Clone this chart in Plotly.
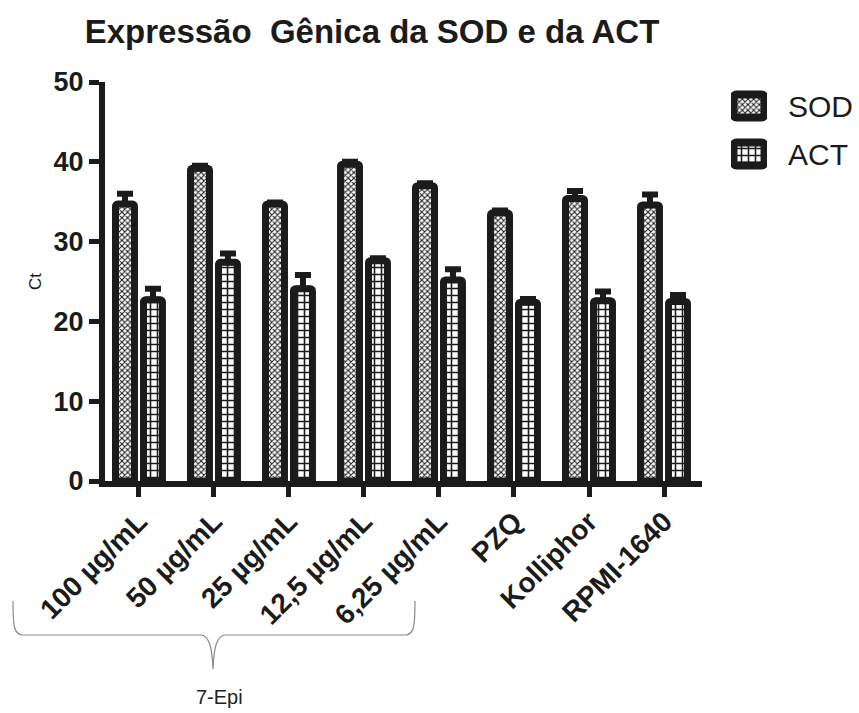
import plotly.graph_objects as go

# Gene expression (Ct) of SOD and ACT per treatment
categories = ["100 µg/mL", "50 µg/mL", "25 µg/mL", "12,5 µg/mL", "6,25 µg/mL",
              "PZQ", "Kolliphor", "RPMI-1640"]
sod_ct = [34.7, 39.2, 34.7, 39.7, 37.0, 33.6, 35.4, 34.6]
sod_err = [1.3, 0.3, 0.2, 0.3, 0.3, 0.3, 0.95, 1.3]
act_ct = [22.7, 27.4, 24.1, 27.6, 25.2, 22.4, 22.6, 22.5]
act_err = [1.4, 1.1, 1.7, 0.3, 1.35, 0.4, 1.15, 0.8]
y_ticks = [0, 10, 20, 30, 40, 50]
series_names = ["SOD", "ACT"]

W, H = 859, 713
# plot area edges in pixels (margins are zero, so paper == page)
X0, X1, Y0, Y1 = 105, 701.5, 82, 481
FONT = "Arial, Liberation Sans, sans-serif"
INK = "#1b1b1b"

SOD_PATTERN = dict(shape="x", size=4, solidity=0.45, fgcolor=INK,
                   bgcolor="white", fillmode="replace")
ACT_PATTERN = dict(shape="+", size=7, solidity=0.4, fgcolor=INK,
                   bgcolor="white", fillmode="replace")


def fx(x):
    return x / W


def fy(y):
    return 1 - y / H


x_idx = list(range(len(categories)))
bar_w = 0.253

fig = go.Figure()
fig.add_trace(go.Bar(
    name="SOD", x=x_idx, y=sod_ct, width=bar_w, offset=-0.313,
    showlegend=False,
    marker=dict(color="white", line=dict(color=INK, width=7), cornerradius=2,
                pattern=SOD_PATTERN),
    error_y=dict(type="data", symmetric=False, array=sod_err,
                 arrayminus=[0] * len(sod_err), color=INK, thickness=6, width=8),
))
fig.add_trace(go.Bar(
    name="ACT", x=x_idx, y=act_ct, width=bar_w, offset=0.06,
    showlegend=False,
    marker=dict(color="white", line=dict(color=INK, width=7), cornerradius=2,
                pattern=ACT_PATTERN),
    error_y=dict(type="data", symmetric=False, array=act_err,
                 arrayminus=[0] * len(act_err), color=INK, thickness=6, width=8),
))

# legend keys: one patterned swatch per series, drawn on a small side axis
for name, pat in zip(series_names, [SOD_PATTERN, ACT_PATTERN]):
    fig.add_trace(go.Bar(
        x=[1], y=[name], orientation="h", width=0.48, base=0,
        xaxis="x2", yaxis="y2", showlegend=False, hoverinfo="skip",
        marker=dict(color="white", line=dict(color=INK, width=8),
                    cornerradius=3, pattern=pat),
    ))
for i, name in enumerate(series_names):
    fig.add_annotation(text=name, x=fx(786), y=fy(106 + 48 * i),
                       xref="paper", yref="paper", showarrow=False,
                       xanchor="left", yanchor="middle",
                       font=dict(family=FONT, size=30, color=INK))

# curly brace grouping the 7-Epi concentrations
brace_pts = [
    ("M", [(13, 601)]),
    ("C", [(13, 626), (14, 634), (22, 635)]),
    ("L", [(201, 635)]),
    ("C", [(209, 636), (212, 646), (213, 669)]),
    ("C", [(214, 646), (217, 636), (225, 635)]),
    ("L", [(406, 635)]),
    ("C", [(414, 634), (415, 626), (415, 601)]),
]
path = " ".join(
    cmd + " " + " ".join(f"{fx(a):.5f},{fy(b):.5f}" for a, b in pts)
    for cmd, pts in brace_pts
)
fig.add_shape(type="path", path=path, xref="paper", yref="paper",
              line=dict(color="#8a8a8a", width=1.2))
fig.add_annotation(text="7-Epi", x=fx(219), y=fy(697), xref="paper",
                   yref="paper", showarrow=False,
                   font=dict(family=FONT, size=20, color="#222"),
                   xanchor="center", yanchor="middle")

fig.update_layout(
    width=W, height=H,
    margin=dict(l=0, r=0, t=0, b=0, autoexpand=False),
    paper_bgcolor="white", plot_bgcolor="white",
    barmode="overlay", showlegend=False,
    title=dict(text="Expressão\u00a0\u00a0Gênica da SOD e da ACT",
               x=fx(372), xanchor="center", y=fy(31), yanchor="middle",
               font=dict(family=FONT, size=33, color=INK, weight="bold")),
    font=dict(family=FONT, color=INK),
    xaxis=dict(
        domain=[fx(X0), fx(X1)],
        range=[-0.453, 7.5], tickmode="array", tickvals=x_idx,
        ticktext=categories, tickangle=-45,
        showline=True, linewidth=6, linecolor=INK,
        ticks="outside", ticklen=10, tickwidth=5, tickcolor=INK,
        tickfont=dict(family=FONT, size=28, color=INK, weight="bold"),
        ticklabelstandoff=-3,
        showgrid=False, zeroline=False, automargin=False,
    ),
    yaxis=dict(
        domain=[fy(Y1), fy(Y0)],
        range=[0, 50], tickmode="array", tickvals=y_ticks,
        showline=True, linewidth=6, linecolor=INK,
        ticks="outside", ticklen=10, tickwidth=5, tickcolor=INK,
        tickfont=dict(family=FONT, size=27, color=INK, weight="bold"),
        title=dict(text="Ct", standoff=10,
                   font=dict(family=FONT, size=17, color=INK)),
        showgrid=False, zeroline=False, automargin=False,
    ),
    xaxis2=dict(domain=[fx(731), fx(767)], range=[-0.08, 1.08],
                visible=False, fixedrange=True),
    yaxis2=dict(domain=[fy(178), fy(82)], type="category",
                categoryorder="array", categoryarray=series_names[::-1],
                range=[-0.5, 1.5], visible=False, fixedrange=True),
)

fig.write_html("out.html")
